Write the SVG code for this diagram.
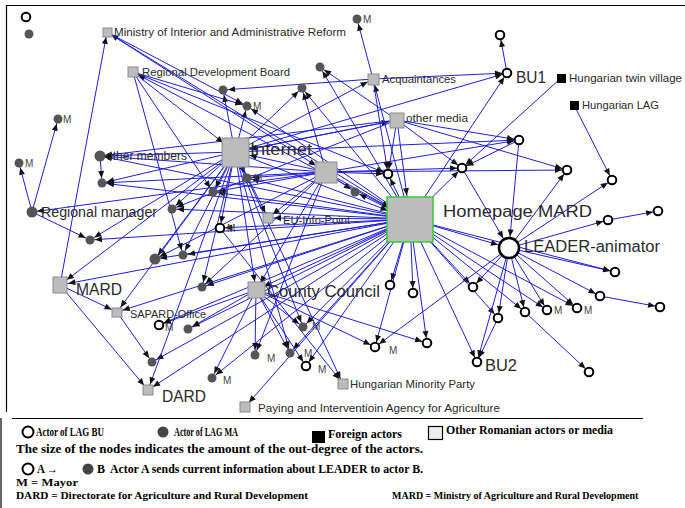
<svg xmlns="http://www.w3.org/2000/svg" width="685" height="508" viewBox="0 0 685 508">
<defs>
<style>
.e line{stroke:#1e1ee0;stroke-width:1;fill:none}
.k5{marker-end:url(#a5)}
.k6{marker-end:url(#a6)}
.k8{marker-end:url(#a8)}
.k12{marker-end:url(#a12)}
.k15{marker-end:url(#a15)}
.k24{marker-end:url(#a24)}
.kL{marker-end:url(#aL)}
.bu{fill:#fff;stroke:#000;stroke-width:2}
.ma{fill:#555}
.sq{fill:#bcbcbc;stroke:#8c8c8c;stroke-width:1}
.fo{fill:#000}
.t{font-family:"Liberation Sans",Arial,sans-serif;font-size:11px;fill:#2a2a2a}
.tb{font-family:"Liberation Sans",Arial,sans-serif;font-size:16px;fill:#2a2a2a}
.m{font-family:"Liberation Sans",Arial,sans-serif;font-size:10px;fill:#444}
.lg{font-family:"Liberation Serif","Times New Roman",serif;font-size:12px;font-weight:bold;fill:#000}
.fr{stroke:#000;stroke-width:1.2;fill:none}
</style>
<marker id="a5" markerUnits="userSpaceOnUse" markerWidth="8" markerHeight="7" refX="12" refY="3" orient="auto" overflow="visible"><path d="M0,0L7,3L0,6z" fill="#111"/></marker>
<marker id="a6" markerUnits="userSpaceOnUse" markerWidth="8" markerHeight="7" refX="13" refY="3" orient="auto" overflow="visible"><path d="M0,0L7,3L0,6z" fill="#111"/></marker>
<marker id="a8" markerUnits="userSpaceOnUse" markerWidth="8" markerHeight="7" refX="15.5" refY="3" orient="auto" overflow="visible"><path d="M0,0L7,3L0,6z" fill="#111"/></marker>
<marker id="a12" markerUnits="userSpaceOnUse" markerWidth="8" markerHeight="7" refX="19" refY="3" orient="auto" overflow="visible"><path d="M0,0L7,3L0,6z" fill="#111"/></marker>
<marker id="a15" markerUnits="userSpaceOnUse" markerWidth="8" markerHeight="7" refX="22" refY="3" orient="auto" overflow="visible"><path d="M0,0L7,3L0,6z" fill="#111"/></marker>
<marker id="a24" markerUnits="userSpaceOnUse" markerWidth="8" markerHeight="7" refX="31" refY="3" orient="auto" overflow="visible"><path d="M0,0L7,3L0,6z" fill="#111"/></marker>
<marker id="aL" markerUnits="userSpaceOnUse" markerWidth="8" markerHeight="7" refX="18.5" refY="3" orient="auto" overflow="visible"><path d="M0,0L7,3L0,6z" fill="#111"/></marker>
</defs>
<rect width="685" height="508" fill="#fff"/>
<g id="frame" class="fr">
<line x1="6" y1="5.5" x2="685" y2="5.5"/>
<line x1="6.5" y1="5" x2="6.5" y2="412"/>
<line x1="12" y1="418.5" x2="643" y2="418.5"/>
<line x1="1" y1="418" x2="1" y2="508"/>
</g>
<g id="connectors" class="e">
<line x1="410" y1="219" x2="107" y2="32" class="k5"/>
<line x1="410" y1="219" x2="133" y2="72" class="k6"/>
<line x1="410" y1="219" x2="247" y2="106" class="k5"/>
<line x1="410" y1="219" x2="302" y2="88" class="k5"/>
<line x1="410" y1="219" x2="320" y2="67" class="k5"/>
<line x1="410" y1="219" x2="373" y2="79" class="k6"/>
<line x1="410" y1="219" x2="100" y2="156" class="k5"/>
<line x1="410" y1="219" x2="102" y2="183" class="k5"/>
<line x1="410" y1="219" x2="172" y2="209" class="k5"/>
<line x1="410" y1="219" x2="213" y2="192" class="k5"/>
<line x1="410" y1="219" x2="90" y2="240" class="k5"/>
<line x1="410" y1="219" x2="155" y2="259" class="k5"/>
<line x1="410" y1="219" x2="183" y2="255" class="k5"/>
<line x1="410" y1="219" x2="202" y2="287" class="k5"/>
<line x1="410" y1="219" x2="60" y2="285" class="k8"/>
<line x1="410" y1="219" x2="117" y2="312" class="k6"/>
<line x1="410" y1="219" x2="188" y2="329" class="k5"/>
<line x1="410" y1="219" x2="152" y2="362" class="k5"/>
<line x1="410" y1="219" x2="148" y2="390" class="k6"/>
<line x1="410" y1="219" x2="256" y2="290" class="k8"/>
<line x1="410" y1="219" x2="268" y2="218" class="k6"/>
<line x1="410" y1="219" x2="247" y2="178" class="k5"/>
<line x1="410" y1="219" x2="355" y2="192" class="k5"/>
<line x1="410" y1="219" x2="462" y2="168" class="k5"/>
<line x1="410" y1="219" x2="509" y2="248" class="kL"/>
<line x1="410" y1="219" x2="390" y2="285" class="k5"/>
<line x1="410" y1="219" x2="413" y2="293" class="k5"/>
<line x1="410" y1="219" x2="375" y2="347" class="k5"/>
<line x1="410" y1="219" x2="427" y2="343" class="k5"/>
<line x1="410" y1="219" x2="477" y2="362" class="k5"/>
<line x1="410" y1="219" x2="498" y2="318" class="k5"/>
<line x1="410" y1="219" x2="525" y2="312" class="k5"/>
<line x1="410" y1="219" x2="547" y2="310" class="k5"/>
<line x1="410" y1="219" x2="577" y2="308" class="k5"/>
<line x1="410" y1="219" x2="473" y2="287" class="k5"/>
<line x1="410" y1="219" x2="303" y2="327" class="k5"/>
<line x1="410" y1="219" x2="290" y2="353" class="k5"/>
<line x1="410" y1="219" x2="306" y2="366" class="k5"/>
<line x1="410" y1="219" x2="245" y2="407" class="k6"/>
<line x1="410" y1="219" x2="507" y2="73" class="k5"/>
<line x1="410" y1="219" x2="220" y2="228" class="k5"/>
<line x1="410" y1="219" x2="159" y2="325" class="k5"/>
<line x1="410" y1="219" x2="212" y2="378" class="k5"/>
<line x1="410" y1="219" x2="615" y2="272" class="k5"/>
<line x1="410" y1="219" x2="388" y2="174" class="k5"/>
<line x1="235" y1="152" x2="223" y2="90" class="k5"/>
<line x1="235" y1="152" x2="302" y2="88" class="k5"/>
<line x1="235" y1="152" x2="100" y2="156" class="k5"/>
<line x1="235" y1="152" x2="102" y2="183" class="k5"/>
<line x1="235" y1="152" x2="172" y2="209" class="k5"/>
<line x1="235" y1="152" x2="247" y2="178" class="k5"/>
<line x1="235" y1="152" x2="268" y2="218" class="k6"/>
<line x1="235" y1="152" x2="155" y2="259" class="k5"/>
<line x1="235" y1="152" x2="183" y2="255" class="k5"/>
<line x1="235" y1="152" x2="202" y2="287" class="k5"/>
<line x1="235" y1="152" x2="256" y2="290" class="k8"/>
<line x1="235" y1="152" x2="117" y2="312" class="k6"/>
<line x1="235" y1="152" x2="60" y2="285" class="k8"/>
<line x1="235" y1="152" x2="148" y2="390" class="k6"/>
<line x1="235" y1="152" x2="373" y2="79" class="k6"/>
<line x1="235" y1="152" x2="397" y2="120" class="k8"/>
<line x1="235" y1="152" x2="507" y2="73" class="k5"/>
<line x1="235" y1="152" x2="519" y2="140" class="k5"/>
<line x1="235" y1="152" x2="343" y2="384" class="k6"/>
<line x1="235" y1="152" x2="303" y2="327" class="k5"/>
<line x1="235" y1="152" x2="290" y2="353" class="k5"/>
<line x1="235" y1="152" x2="410" y2="219" class="k24"/>
<line x1="235" y1="152" x2="213" y2="192" class="k5"/>
<line x1="235" y1="152" x2="90" y2="240" class="k5"/>
<line x1="235" y1="152" x2="220" y2="228" class="k5"/>
<line x1="235" y1="152" x2="247" y2="106" class="k5"/>
<line x1="326" y1="172" x2="302" y2="88" class="k5"/>
<line x1="326" y1="172" x2="355" y2="192" class="k5"/>
<line x1="326" y1="172" x2="410" y2="219" class="k24"/>
<line x1="326" y1="172" x2="388" y2="174" class="k5"/>
<line x1="326" y1="172" x2="462" y2="168" class="k5"/>
<line x1="326" y1="172" x2="247" y2="178" class="k5"/>
<line x1="326" y1="172" x2="268" y2="218" class="k6"/>
<line x1="326" y1="172" x2="213" y2="192" class="k5"/>
<line x1="326" y1="172" x2="102" y2="183" class="k5"/>
<line x1="326" y1="172" x2="100" y2="156" class="k5"/>
<line x1="326" y1="172" x2="256" y2="290" class="k8"/>
<line x1="326" y1="172" x2="519" y2="140" class="k5"/>
<line x1="326" y1="172" x2="32" y2="212" class="k5"/>
<line x1="326" y1="172" x2="155" y2="259" class="k5"/>
<line x1="326" y1="172" x2="255" y2="355" class="k5"/>
<line x1="326" y1="172" x2="202" y2="287" class="k5"/>
<line x1="326" y1="172" x2="567" y2="170" class="k5"/>
<line x1="326" y1="172" x2="235" y2="152" class="k15"/>
<line x1="397" y1="120" x2="388" y2="174" class="k5"/>
<line x1="397" y1="120" x2="462" y2="168" class="k5"/>
<line x1="397" y1="120" x2="519" y2="140" class="k5"/>
<line x1="397" y1="120" x2="567" y2="170" class="k5"/>
<line x1="397" y1="120" x2="320" y2="67" class="k5"/>
<line x1="397" y1="120" x2="235" y2="152" class="k15"/>
<line x1="397" y1="120" x2="100" y2="156" class="k5"/>
<line x1="397" y1="120" x2="410" y2="219" class="k24"/>
<line x1="397" y1="120" x2="172" y2="209" class="k5"/>
<line x1="373" y1="79" x2="357" y2="19" class="k5"/>
<line x1="373" y1="79" x2="507" y2="73" class="k5"/>
<line x1="373" y1="79" x2="388" y2="174" class="k5"/>
<line x1="373" y1="79" x2="223" y2="90" class="k5"/>
<line x1="60" y1="285" x2="107" y2="32" class="k5"/>
<line x1="60" y1="285" x2="117" y2="312" class="k6"/>
<line x1="60" y1="285" x2="148" y2="390" class="k6"/>
<line x1="133" y1="72" x2="247" y2="106" class="k5"/>
<line x1="133" y1="72" x2="183" y2="255" class="k5"/>
<line x1="133" y1="72" x2="213" y2="192" class="k5"/>
<line x1="133" y1="72" x2="235" y2="152" class="k15"/>
<line x1="133" y1="72" x2="388" y2="174" class="k5"/>
<line x1="107" y1="32" x2="326" y2="172" class="k12"/>
<line x1="107" y1="32" x2="247" y2="106" class="k5"/>
<line x1="100" y1="156" x2="102" y2="183" class="k5"/>
<line x1="32" y1="212" x2="19" y2="163" class="k5"/>
<line x1="32" y1="212" x2="58" y2="119" class="k5"/>
<line x1="32" y1="212" x2="90" y2="240" class="k5"/>
<line x1="117" y1="312" x2="152" y2="362" class="k5"/>
<line x1="509" y1="248" x2="567" y2="170" class="k5"/>
<line x1="509" y1="248" x2="612" y2="180" class="k5"/>
<line x1="509" y1="248" x2="608" y2="220" class="k5"/>
<line x1="509" y1="248" x2="615" y2="272" class="k5"/>
<line x1="509" y1="248" x2="600" y2="296" class="k5"/>
<line x1="509" y1="248" x2="577" y2="308" class="k5"/>
<line x1="509" y1="248" x2="547" y2="310" class="k5"/>
<line x1="509" y1="248" x2="525" y2="312" class="k5"/>
<line x1="509" y1="248" x2="498" y2="318" class="k5"/>
<line x1="509" y1="248" x2="477" y2="362" class="k5"/>
<line x1="509" y1="248" x2="473" y2="287" class="k5"/>
<line x1="509" y1="248" x2="375" y2="347" class="k5"/>
<line x1="519" y1="140" x2="509" y2="248" class="kL"/>
<line x1="519" y1="140" x2="462" y2="168" class="k5"/>
<line x1="462" y1="168" x2="509" y2="248" class="kL"/>
<line x1="608" y1="220" x2="658" y2="211" class="k5"/>
<line x1="600" y1="296" x2="660" y2="307" class="k5"/>
<line x1="525" y1="312" x2="589" y2="372" class="k5"/>
<line x1="574" y1="105" x2="612" y2="180" class="k5"/>
<line x1="561" y1="78" x2="462" y2="168" class="k5"/>
<line x1="507" y1="73" x2="500" y2="35" class="k5"/>
<line x1="498" y1="318" x2="477" y2="362" class="k5"/>
<line x1="256" y1="290" x2="255" y2="355" class="k5"/>
<line x1="256" y1="290" x2="290" y2="353" class="k5"/>
<line x1="256" y1="290" x2="303" y2="327" class="k5"/>
<line x1="256" y1="290" x2="306" y2="366" class="k5"/>
<line x1="256" y1="290" x2="212" y2="378" class="k5"/>
<line x1="256" y1="290" x2="375" y2="347" class="k5"/>
<line x1="256" y1="290" x2="427" y2="343" class="k5"/>
<line x1="256" y1="290" x2="188" y2="329" class="k5"/>
<line x1="256" y1="290" x2="159" y2="325" class="k5"/>
<line x1="220" y1="228" x2="343" y2="384" class="k6"/>
</g>
<g id="n-homepage"><rect x="387" y="197" width="46" height="45" fill="#bcbcbc" stroke="#3c3" stroke-width="1.5"/><text class="tb" x="443" y="217" textLength="149" lengthAdjust="spacingAndGlyphs">Homepage MARD</text></g>
<g id="n-internet"><rect class="sq" x="222" y="138" width="27" height="29"/><text class="tb" x="250" y="155" textLength="62" lengthAdjust="spacingAndGlyphs">Internet</text></g>
<g id="n-s2"><rect class="sq" x="315" y="162" width="22" height="21"/></g>
<g id="n-othermedia"><rect class="sq" x="390" y="113" width="14" height="15"/><text class="t" x="406" y="122" textLength="62" lengthAdjust="spacingAndGlyphs">other media</text></g>
<g id="n-acq"><rect class="sq" x="368" y="74" width="11" height="11"/><text class="t" x="382" y="83" textLength="74" lengthAdjust="spacingAndGlyphs">Acquaintances</text></g>
<g id="n-ministry"><rect class="sq" x="103" y="28" width="9" height="9"/><text class="t" x="114" y="36" textLength="232" lengthAdjust="spacingAndGlyphs">Ministry of Interior and Administrative Reform</text></g>
<g id="n-rdb"><rect class="sq" x="128" y="67" width="10" height="10"/><text class="t" x="142" y="76" textLength="148" lengthAdjust="spacingAndGlyphs">Regional Development Board</text></g>
<g id="n-eu"><rect class="sq" x="263" y="213" width="10" height="10"/><text class="t" x="283" y="224" textLength="67" lengthAdjust="spacingAndGlyphs">EU-Info-Point</text></g>
<g id="n-cc"><rect class="sq" x="248" y="282" width="17" height="16"/><text class="tb" x="267" y="297" textLength="113" lengthAdjust="spacingAndGlyphs">County Council</text></g>
<g id="n-mard"><rect class="sq" x="53" y="277" width="14" height="16"/><text class="tb" x="76" y="295" textLength="46" lengthAdjust="spacingAndGlyphs">MARD</text></g>
<g id="n-sapard"><rect class="sq" x="112" y="308" width="10" height="9"/><text class="t" x="130" y="318" style="font-size:10px" textLength="76" lengthAdjust="spacingAndGlyphs">SAPARD-Office</text></g>
<g id="n-dard"><rect class="sq" x="143" y="385" width="10" height="10"/><text class="tb" x="162" y="402" textLength="44" lengthAdjust="spacingAndGlyphs">DARD</text></g>
<g id="n-hmp"><rect class="sq" x="338" y="379" width="10" height="10"/><text class="t" x="350" y="388" textLength="125" lengthAdjust="spacingAndGlyphs">Hungarian Minority Party</text></g>
<g id="n-piaa"><rect class="sq" x="240" y="402" width="10" height="10"/><text class="t" x="258" y="412" textLength="242" lengthAdjust="spacingAndGlyphs">Paying and Interventioin Agency for Agriculture</text></g>
<g id="n-htv"><rect class="fo" x="557" y="74" width="9" height="9"/><text class="t" x="569" y="82" textLength="113" lengthAdjust="spacingAndGlyphs">Hungarian twin village</text></g>
<g id="n-hlag"><rect class="fo" x="570" y="101" width="9" height="9"/><text class="t" x="582" y="109" textLength="77" lengthAdjust="spacingAndGlyphs">Hungarian LAG</text></g>
<g id="n-leader"><circle class="bu" cx="509" cy="248" r="10" style="stroke-width:2.5"/><text class="tb" x="524" y="252" textLength="136" lengthAdjust="spacingAndGlyphs">LEADER-animator</text></g>
<g id="n-bu1"><circle class="bu" cx="507" cy="73" r="4.3"/><text class="tb" x="516" y="83" textLength="30" lengthAdjust="spacingAndGlyphs">BU1</text></g>
<g id="n-bu2"><circle class="bu" cx="477" cy="362" r="4.3"/><text class="tb" x="485" y="371" textLength="32" lengthAdjust="spacingAndGlyphs">BU2</text></g>
<g id="n-rings" class="bu">
<circle cx="26" cy="17" r="4.3"/>
<circle cx="500" cy="35" r="4.3"/>
<circle cx="519" cy="140" r="4.3"/>
<circle cx="462" cy="168" r="4.3"/>
<circle cx="567" cy="170" r="4.3"/>
<circle cx="612" cy="180" r="4.3"/>
<circle cx="608" cy="220" r="4.3"/>
<circle cx="658" cy="211" r="4.3"/>
<circle cx="615" cy="272" r="4.3"/>
<circle cx="600" cy="296" r="4.3"/>
<circle cx="660" cy="307" r="4.3"/>
<circle cx="577" cy="308" r="4.3"/>
<circle cx="547" cy="310" r="4.3"/>
<circle cx="525" cy="312" r="4.3"/>
<circle cx="498" cy="318" r="4.3"/>
<circle cx="473" cy="287" r="4.3"/>
<circle cx="589" cy="372" r="4.3"/>
<circle cx="388" cy="174" r="4.3"/>
<circle cx="390" cy="285" r="4.3"/>
<circle cx="413" cy="293" r="4.3"/>
<circle cx="375" cy="347" r="4.3"/>
<circle cx="427" cy="343" r="4.3"/>
<circle cx="306" cy="366" r="4.3"/>
<circle cx="220" cy="228" r="4.3"/>
<circle cx="159" cy="325" r="4.3"/>
</g>
<g id="n-ma" class="ma">
<circle cx="29" cy="34" r="4.5"/>
<circle cx="58" cy="119" r="4.5"/>
<circle cx="19" cy="163" r="4.5"/>
<circle cx="100" cy="156" r="5.5"/>
<circle cx="223" cy="90" r="4.5"/>
<circle cx="247" cy="106" r="4.5"/>
<circle cx="302" cy="88" r="4.5"/>
<circle cx="320" cy="67" r="4.5"/>
<circle cx="357" cy="19" r="4.5"/>
<circle cx="355" cy="192" r="4.5"/>
<circle cx="247" cy="178" r="4.5"/>
<circle cx="213" cy="192" r="4.5"/>
<circle cx="102" cy="183" r="4.5"/>
<circle cx="172" cy="209" r="4.5"/>
<circle cx="32" cy="212" r="5.5"/>
<circle cx="90" cy="240" r="4.5"/>
<circle cx="155" cy="259" r="5.5"/>
<circle cx="183" cy="255" r="4.5"/>
<circle cx="202" cy="287" r="4.5"/>
<circle cx="188" cy="329" r="4.5"/>
<circle cx="152" cy="362" r="4.5"/>
<circle cx="212" cy="378" r="4.5"/>
<circle cx="303" cy="327" r="4.5"/>
<circle cx="290" cy="353" r="4.5"/>
<circle cx="255" cy="355" r="4.5"/>
</g>
<g id="n-labels">
<text class="t" x="106" y="160" style="font-size:12px" textLength="81" lengthAdjust="spacingAndGlyphs">other members</text>
<text class="t" x="41" y="217" style="font-size:14px" textLength="116" lengthAdjust="spacingAndGlyphs">Regional manager</text>
<text class="m" x="63" y="123">M</text>
<text class="m" x="25" y="167">M</text>
<text class="m" x="253" y="110">M</text>
<text class="m" x="363" y="23">M</text>
<text class="m" x="254" y="182">M</text>
<text class="m" x="220" y="197">M</text>
<text class="m" x="227" y="232">M</text>
<text class="m" x="165" y="331">M</text>
<text class="m" x="223" y="384">M</text>
<text class="m" x="312" y="330">M</text>
<text class="m" x="304" y="357">M</text>
<text class="m" x="318" y="373">M</text>
<text class="m" x="267" y="362">M</text>
<text class="m" x="389" y="354">M</text>
<text class="m" x="584" y="314">M</text>
<text class="m" x="554" y="314">M</text>
</g>
<g id="legend">
<circle class="bu" cx="28" cy="432" r="5.5"/>
<text class="lg" x="36" y="436" textLength="68" lengthAdjust="spacingAndGlyphs">Actor of LAG BU</text>
<circle cx="163" cy="432" r="5.5" fill="#444"/>
<text class="lg" x="174" y="436" textLength="64" lengthAdjust="spacingAndGlyphs">Actor of LAG MA</text>
<rect x="312" y="431" width="13" height="12" fill="#000"/>
<text class="lg" x="328" y="438" textLength="74" lengthAdjust="spacingAndGlyphs">Foreign actors</text>
<rect x="428.5" y="426.5" width="14" height="13" fill="#eee" stroke="#000" stroke-width="1.2"/>
<text class="lg" x="446" y="434" textLength="167" lengthAdjust="spacingAndGlyphs">Other Romanian actors or media</text>
<text class="lg" x="16" y="453" textLength="407" lengthAdjust="spacingAndGlyphs">The size of the nodes indicates the amount of the out-degree of the actors.</text>
<circle class="bu" cx="28" cy="469" r="5.5"/>
<text class="lg" x="37" y="473" textLength="21" lengthAdjust="spacingAndGlyphs">A →</text>
<circle cx="88" cy="469" r="5.5" fill="#444"/>
<text class="lg" x="97" y="473">B</text>
<text class="lg" x="110" y="473" textLength="313" lengthAdjust="spacingAndGlyphs">Actor A sends current information about LEADER to actor B.</text>
<text class="lg" x="16" y="486" style="font-size:10.5px" textLength="62" lengthAdjust="spacingAndGlyphs">M = Mayor</text>
<text class="lg" x="16" y="499" style="font-size:10.5px" textLength="292" lengthAdjust="spacingAndGlyphs">DARD = Directorate for Agriculture and Rural Development</text>
<text class="lg" x="392" y="499" style="font-size:10px">MARD = Ministry of Agriculture and Rural Development</text>
</g>
</svg>
